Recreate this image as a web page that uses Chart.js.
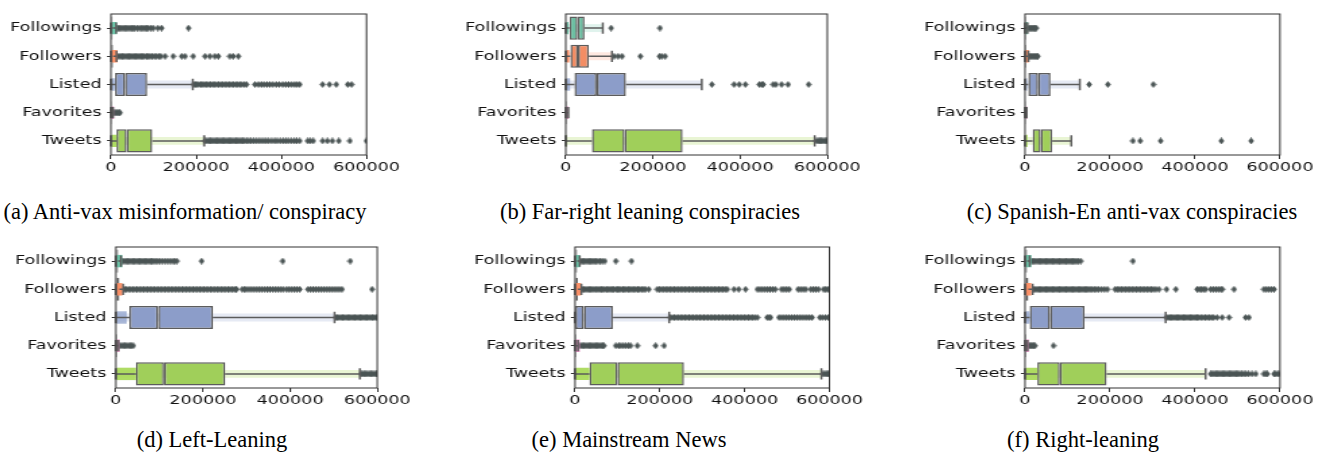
<!DOCTYPE html>
<html>
<head>
<meta charset="utf-8">
<script src="https://cdn.jsdelivr.net/npm/chart.js@4.4.1/dist/chart.umd.min.js"></script>
<style>
    body { margin: 0; background: #fff; width: 1324px; height: 462px; position: relative; overflow: hidden; }
    canvas { position: absolute; }
    .cap { position: absolute; font-family: "Liberation Serif", "Times New Roman", serif; font-size: 22.5px; line-height: 22px; color: #000; white-space: nowrap; transform: translateX(-50%); }
</style>
</head>
<body>
<canvas id="pa"></canvas><canvas id="pb"></canvas><canvas id="pc"></canvas>
<canvas id="pd"></canvas><canvas id="pe"></canvas><canvas id="pf"></canvas>
<div class="cap" style="left:185px;top:201px">(a) Anti-vax misinformation/ conspiracy</div>
<div class="cap" style="left:650px;top:201px">(b) Far-right leaning conspiracies</div>
<div class="cap" style="left:1132px;top:201px">(c) Spanish-En anti-vax conspiracies</div>
<div class="cap" style="left:212px;top:429px">(d) Left-Leaning</div>
<div class="cap" style="left:629px;top:429px">(e) Mainstream News</div>
<div class="cap" style="left:1083px;top:429px">(f) Right-leaning</div>
<script>
const categories = ['Followings', 'Followers', 'Listed', 'Favorites', 'Tweets'];
const xTicks = [0, 200000, 400000, 600000];
const K = 1000; // all values below are in thousands

// box stats per category: [whisker low, q1, median, q3, whisker high]
// head: how far the dense, strongly coloured run of points near zero reaches
const boxA = [[0, 0.5, 2, 4, 12], [0, 0.3, 1.5, 5, 13], [0, 9.5, 33, 85, 192], [0, 0.2, 0.8, 2, 5], [0, 13, 37, 97, 219]];
const headA = [14, 15, 9, 7, 13];
const outA = [
    [14, 17, 21, 25, 29, 33, 37, 41, 45, 49, 53, 56, 62, 67, 72, 76, 80, 84, 88, 94, 99, 110, 119, 182],
    [15, 19, 23, 27, 31, 35, 39, 43, 47, 51, 55, 59, 63, 67, 71, 75, 79, 84, 88, 92, 97, 102, 107, 113, 117, 127, 146, 166, 174, 193, 221, 232, 244, 252, 279, 287, 299],
    [194, 198, 202, 206, 211, 215, 219, 224, 228, 233, 238, 242, 247, 252, 257, 262, 267, 272, 277, 282, 287, 292, 297, 302, 307, 313, 318, 338, 346, 353, 359, 366, 373, 380, 388, 395, 403, 410, 417, 424, 431, 437, 443, 497, 513, 529, 556, 565],
    [7, 10, 13, 16, 19, 21],
    [221, 225, 229, 233, 237, 241, 245, 249, 253, 257, 261, 265, 269, 273, 277, 281, 285, 289, 293, 297, 301, 305, 309, 313, 318, 323, 328, 334, 340, 346, 352, 358, 364, 370, 377, 384, 390, 397, 404, 410, 416, 423, 430, 436, 443, 462, 468, 475, 497, 508, 520, 535, 561, 600]
];

const boxB = [[0, 8.4, 27, 43, 85], [0, 10.7, 28, 53, 106], [0, 20, 71, 138, 312], [0, 0.5, 1.5, 3, 6], [0, 60, 135, 268, 571]];
const headB = [6, 8, 10, 6, 3];
const outB = [
    [104, 216],
    [111, 120, 129, 171, 215, 220, 228],
    [335, 386, 398, 412, 444, 449, 453, 476, 482, 495, 510, 557],
    [],
    [575, 579, 583, 586, 590, 594, 597, 600]
];

const boxC = [[0, 0.3, 1, 2.5, 6], [0, 0.3, 1, 3, 8], [0, 7.8, 31, 60, 129], [0, 0.2, 0.8, 2, 4], [0, 18, 37, 64, 109]];
const headC = [7, 9, 5, 5, 6];
const outC = [
    [9, 12, 15, 18, 21, 24, 26],
    [10, 13, 16, 19, 22, 25, 28, 30],
    [151, 195, 302],
    [],
    [254, 271, 319, 462, 532]
];

const boxD = [[0, 0.5, 2, 5, 12], [0, 1, 3, 8, 17], [0, 31, 97, 223, 502], [0, 0.3, 1, 3, 6], [0, 46, 111, 251, 560]];
const headD = [15, 15, 25, 9, 46];
const outD = [
    [14, 18, 22, 26, 30, 34, 38, 42, 46, 50, 54, 58, 62, 66, 70, 74, 78, 82, 86, 90, 95, 100, 106, 112, 118, 124, 130, 135, 140, 197, 383, 538],
    [19, 23, 28, 33, 38, 43, 48, 53, 58, 63, 68, 73, 78, 83, 88, 93, 98, 103, 108, 113, 118, 123, 128, 133, 138, 143, 148, 153, 158, 163, 168, 173, 178, 183, 188, 193, 198, 203, 208, 213, 218, 223, 228, 233, 238, 243, 248, 253, 258, 263, 268, 273, 277, 290, 295, 300, 306, 312, 318, 324, 330, 336, 342, 348, 354, 360, 366, 372, 378, 384, 392, 398, 404, 410, 416, 422, 441, 447, 453, 459, 465, 471, 477, 483, 489, 495, 501, 507, 513, 519, 588],
    [505, 509, 513, 517, 521, 525, 529, 533, 537, 541, 545, 549, 553, 557, 561, 565, 569, 573, 577, 581, 585, 589, 593, 597, 600],
    [8, 12, 16, 20, 24, 28, 32, 36, 40],
    [563, 566, 570, 574, 578, 582, 586, 590, 594, 598, 600]
];

const boxE = [[0, 0.5, 2, 5, 11], [0, 1, 3, 7, 15], [0, 0.5, 21, 89.5, 222], [0, 0.3, 1, 3, 7], [0, 34, 100, 257, 581]];
const headE = [12, 14, 0, 11, 34];
const outE = [
    [13, 17, 21, 25, 29, 33, 37, 41, 45, 49, 54, 59, 64, 70, 96, 133],
    [17, 21, 25, 29, 33, 37, 41, 45, 50, 54, 58, 62, 66, 70, 75, 79, 83, 87, 91, 96, 100, 104, 108, 113, 117, 121, 126, 130, 134, 139, 143, 148, 152, 157, 162, 166, 174, 194, 199, 204, 209, 214, 219, 224, 229, 234, 239, 244, 249, 254, 259, 264, 269, 274, 279, 284, 289, 294, 299, 304, 309, 314, 319, 324, 329, 334, 339, 344, 349, 354, 359, 375, 386, 402, 430, 436, 442, 448, 454, 460, 466, 472, 487, 493, 499, 505, 526, 532, 538, 544, 556, 562, 568, 574, 586, 591, 596, 600],
    [224, 229, 234, 239, 244, 249, 254, 259, 264, 269, 274, 279, 284, 289, 294, 299, 304, 309, 314, 319, 324, 329, 334, 339, 344, 349, 354, 359, 364, 369, 374, 379, 384, 389, 394, 399, 404, 409, 414, 419, 424, 430, 453, 458, 461, 481, 487, 493, 499, 505, 511, 517, 523, 529, 535, 541, 547, 553, 559, 577, 583, 590, 597],
    [9, 13, 17, 21, 25, 29, 33, 37, 41, 45, 49, 53, 57, 61, 65, 68, 96, 103, 108, 114, 120, 126, 131, 147, 190, 210],
    [585, 589, 593, 597, 600]
];

const boxF = [[0, 0.5, 2, 5, 11], [0, 1, 3, 8, 18], [0, 11, 59, 140, 331], [0, 0.3, 1, 3, 6], [0, 29, 82, 192, 425]];
const headF = [15, 15, 11, 9, 29];
const outF = [
    [13, 17, 21, 25, 29, 33, 37, 41, 45, 49, 53, 57, 61, 65, 69, 73, 77, 81, 85, 89, 93, 97, 101, 105, 109, 113, 117, 121, 125, 131, 254],
    [21, 25, 29, 33, 37, 41, 45, 49, 53, 57, 61, 65, 69, 73, 77, 81, 85, 89, 93, 97, 101, 105, 109, 113, 117, 121, 125, 129, 133, 137, 141, 145, 149, 153, 158, 163, 168, 173, 180, 187, 194, 212, 217, 222, 227, 232, 237, 242, 247, 252, 257, 262, 267, 272, 277, 282, 287, 292, 297, 302, 308, 315, 333, 355, 405, 410, 415, 420, 425, 437, 443, 449, 455, 461, 464, 492, 562, 568, 574, 580, 586],
    [333, 337, 341, 345, 349, 353, 357, 361, 365, 369, 373, 377, 381, 385, 389, 393, 397, 401, 405, 409, 414, 419, 424, 429, 434, 439, 444, 452, 464, 480, 519, 527],
    [9, 12, 15, 18, 21, 23, 67],
    [437, 441, 445, 449, 453, 457, 461, 465, 469, 473, 477, 481, 485, 489, 493, 497, 501, 505, 510, 515, 520, 526, 534, 543, 562, 566, 570, 586, 590, 595, 600]
];

const boxFill = ['#6cbfa2', '#f38d64', '#8c9dc9', '#e18bc0', '#a0cf5a'];
const headFill = ['rgba(102,194,165,0.95)', 'rgba(252,141,98,0.95)', 'rgba(141,160,203,0.75)', 'rgba(231,138,195,0.95)', 'rgba(166,216,84,0.9)'];
const stripFill = ['rgba(102,194,165,0.2)', 'rgba(252,141,98,0.2)', 'rgba(141,160,203,0.22)', 'rgba(231,138,195,0.2)', 'rgba(166,216,84,0.25)'];
const edge = '#5c5c5c';
const fliers = '#4b5555';
const textColor = '#111';

// the source figure is stretched horizontally, so each canvas is too
const S = 1.35;
const YW = 112, PR = 42, PT = 10, XH = 36;

// thin diamond marker, like matplotlib's 'd'
const diamond = document.createElement('canvas');
diamond.width = 5; diamond.height = 7;
(() => {
    const c = diamond.getContext('2d');
    c.fillStyle = fliers;
    c.beginPath();
    c.moveTo(2.5, 0); c.lineTo(4.7, 3.5); c.lineTo(2.5, 7); c.lineTo(0.3, 3.5);
    c.closePath();
    c.fill();
})();

const whiskerPlugin = {
    id: 'whiskers',
    afterDatasetsDraw(chart, args, opts) {
        const { ctx, chartArea, scales: { x, y } } = chart;
        const step = y.getPixelForValue(1) - y.getPixelForValue(0);
        const cap = step * 0.2;
        ctx.save();
        ctx.strokeStyle = edge;
        ctx.lineWidth = 1.5;
        opts.stats.forEach((s, i) => {
            const cy = y.getPixelForValue(i);
            const [lo, q1, , q3, hi] = s.map(v => x.getPixelForValue(v * K));
            ctx.beginPath();
            ctx.moveTo(lo, cy); ctx.lineTo(q1, cy);
            ctx.moveTo(q3, cy); ctx.lineTo(hi, cy);
            ctx.moveTo(lo, cy - cap); ctx.lineTo(lo, cy + cap);
            ctx.moveTo(hi, cy - cap); ctx.lineTo(hi, cy + cap);
            ctx.stroke();
        });
        ctx.strokeStyle = '#333';
        ctx.lineWidth = 1;
        ctx.strokeRect(chartArea.left, chartArea.top, chartArea.width, chartArea.height);
        ctx.restore();
    }
};

function makePanel(id, boxes, heads, outliers, rect) {
    const [pl, pr, pt, pb] = rect;
    const cssW = YW + (pr - pl) + PR;
    const cssH = PT + (pb - pt) + XH;
    const w = Math.round(cssW / S);
    const cv = document.getElementById(id);
    cv.width = w;
    cv.height = cssH;
    cv.style.left = (pl - YW) + 'px';
    cv.style.top = (pt - PT) + 'px';
    cv.style.width = (w * S) + 'px';
    cv.style.height = cssH + 'px';
    const yw = YW / S;
    const padRight = w - (YW + pr - pl) / S;
    const font = { family: "'DejaVu Sans', sans-serif", size: 13 };

    const boxPart = (lo, hi) => ({
        data: boxes.map(b => [b[lo] * K, b[hi] * K]),
        backgroundColor: boxFill,
        borderColor: edge,
        borderWidth: 1.5,
        borderSkipped: false,
        barPercentage: 0.82,
        categoryPercentage: 1,
        grouped: false,
        order: 1
    });

    new Chart(cv, {
        type: 'bar',
        data: {
            labels: categories,
            datasets: [
                {
                    data: heads.map((h, i) => [boxes[i][0] * K, h * K]),
                    backgroundColor: headFill,
                    borderWidth: 0,
                    barPercentage: 0.44,
                    categoryPercentage: 1,
                    grouped: false,
                    order: -1
                },
                {
                    type: 'scatter',
                    data: outliers.flatMap((vals, i) => vals.map(v => ({ x: v * K, y: categories[i] }))),
                    pointStyle: diamond,
                    pointRadius: 3,
                    order: 0
                },
                boxPart(1, 2),
                boxPart(2, 3),
                {
                    data: boxes.map(b => [b[0] * K, b[4] * K]),
                    backgroundColor: stripFill,
                    borderWidth: 0,
                    barPercentage: 0.28,
                    categoryPercentage: 1,
                    grouped: false,
                    order: 3
                }
            ]
        },
        options: {
            indexAxis: 'y',
            responsive: false,
            animation: false,
            devicePixelRatio: 1,
            layout: { padding: { left: 0, right: padRight, top: PT, bottom: 0 } },
            plugins: {
                legend: { display: false },
                tooltip: { enabled: false },
                whiskers: { stats: boxes }
            },
            scales: {
                x: {
                    type: 'linear',
                    min: 0,
                    max: 600000,
                    offset: false,
                    afterBuildTicks: axis => { axis.ticks = xTicks.map(v => ({ value: v })); },
                    afterFit: axis => { axis.height = XH; axis.paddingLeft = 0; axis.paddingRight = 0; },
                    grid: { drawOnChartArea: false, drawTicks: true, tickLength: 4, color: '#333' },
                    border: { display: false },
                    ticks: { font, color: textColor, padding: 1, maxRotation: 0, autoSkip: false, callback: v => String(v) }
                },
                y: {
                    type: 'category',
                    offset: true,
                    afterFit: axis => { axis.width = yw; axis.paddingTop = 0; axis.paddingBottom = 0; },
                    grid: { offset: false, drawOnChartArea: false, drawTicks: true, tickLength: 3, color: '#333' },
                    border: { display: false },
                    ticks: { font, color: textColor, padding: 4 }
                }
            }
        },
        plugins: [whiskerPlugin]
    });
}

makePanel('pa', boxA, headA, outA, [111, 366.5, 14, 155]);
makePanel('pb', boxB, headB, outB, [565.5, 827.5, 14, 155]);
makePanel('pc', boxC, headC, outC, [1024.5, 1279.5, 14, 155]);
makePanel('pd', boxD, headD, outD, [115.5, 377.5, 247, 388]);
makePanel('pe', boxE, headE, outE, [574.5, 829, 247, 388]);
makePanel('pf', boxF, headF, outF, [1024.5, 1279.5, 247, 388]);
</script>
</body>
</html>
